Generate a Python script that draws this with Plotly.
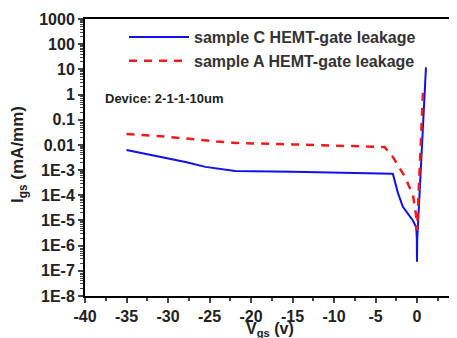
import plotly.graph_objects as go

# Sample C (blue, solid)
c_v = [-35, -31.5, -27.9, -25.5, -21.9, -15, -10, -5, -3, -2.9, -2.3, -1.7, -1.2, -0.5, -0.1, -0.02, 0.0, 0.02, 1.08]
c_i = [0.0063, 0.0037, 0.0021, 0.00134, 0.00093, 0.00085, 0.0008, 0.00078, 0.00072, 0.0007,
       1.25e-4, 3.5e-5, 2e-5, 1e-5, 5.5e-6, 2e-6, 2.3e-7, 1.5e-6, 12]

# Sample A (red, dashed)
a_v = [-35, -30, -25, -21.9, -15, -10, -5.3, -3.9, -2.9, -1.45, -0.48, -0.1, 0.0, 0.75]
a_i = [0.027, 0.021, 0.0145, 0.012, 0.0105, 0.0095, 0.0083, 0.0082, 0.0033, 5.4e-4, 1e-4, 1.5e-5, 4e-6, 2]

y_tickvals = [1000, 100, 10, 1, 0.1, 0.01, 1e-3, 1e-4, 1e-5, 1e-6, 1e-7, 1e-8]
y_ticktext = ["1000", "100", "10", "1", "0.1", "0.01", "1E-3", "1E-4", "1E-5", "1E-6", "1E-7", "1E-8"]
x_tickvals = [-40, -35, -30, -25, -20, -15, -10, -5, 0, 5]
x_ticktext = ["-40", "-35", "-30", "-25", "-20", "-15", "-10", "-5", "0", "5"]

FONT = "Liberation Sans, Arial, sans-serif"
OFF = 8  # default page body margin
# target page-pixel geometry of the plot area
L, T, BOT, RIGHT = 85, 19, 296, 457
W, H = 457 - OFF, 338 - OFF
PW = RIGHT - L
PH = BOT - T

fig = go.Figure()
fig.add_trace(go.Scatter(x=c_v, y=c_i, mode="lines", name="sample C HEMT-gate leakage",
                         line=dict(color="#1010ee", width=2)))
fig.add_trace(go.Scatter(x=a_v, y=a_i, mode="lines", name="sample A HEMT-gate leakage",
                         line=dict(color="#ee1c1c", width=2.5, dash="8px,7px")))

def px(xp):
    return (xp - L) / PW

def py(yp):
    return 1 - (yp - T) / PH

fig.add_annotation(x=px(103), y=py(98), xref="paper", yref="paper",
                   text="Device: 2-1-1-10um", showarrow=False, xanchor="left", yanchor="middle",
                   font=dict(family=FONT, size=13, color="#222", weight="bold"))

fig.add_annotation(x=px(270), y=py(329), xref="paper", yref="paper",
                   text="V<sub>gs</sub> (v)", showarrow=False, xanchor="center", yanchor="middle",
                   font=dict(family=FONT, size=16, color="#222", weight="bold"))
fig.add_annotation(x=px(19), y=py(155), xref="paper", yref="paper",
                   text="I<sub>gs</sub> (mA/mm)", showarrow=False, xanchor="center", yanchor="middle",
                   textangle=-90, font=dict(family=FONT, size=17, color="#222", weight="bold"))

fig.update_layout(
    width=W, height=H, autosize=False,
    margin=dict(l=L - OFF, r=0, t=T - OFF, b=(338 - BOT)),
    paper_bgcolor="white", plot_bgcolor="white",
    font=dict(family=FONT, color="#222"),
    showlegend=True,
    legend=dict(x=px(124), y=py(20), xanchor="left", yanchor="top",
                bgcolor="rgba(0,0,0,0)", font=dict(family=FONT, size=16, color="#333", weight="bold"),
                itemwidth=60, tracegroupgap=0),
    xaxis=dict(range=[-40, 4.82], tickvals=x_tickvals, ticktext=x_ticktext,
               ticks="outside", ticklen=5, tickwidth=2, automargin=False,
               showline=True, linewidth=2, linecolor="black", mirror=True, showgrid=False, zeroline=False,
               tickfont=dict(family=FONT, size=16, color="#222", weight="bold"),
               minor=dict(ticks="outside", ticklen=3, tickwidth=1.5, dtick=2.5, showgrid=False)),
    yaxis=dict(type="log", range=[-8, 3], tickvals=y_tickvals, ticktext=y_ticktext,
               ticks="outside", ticklen=5, tickwidth=2, automargin=False,
               showline=True, linewidth=2, linecolor="black", mirror=False, showgrid=False, zeroline=False,
               tickfont=dict(family=FONT, size=16, color="#222", weight="bold"),
               minor=dict(ticks="outside", ticklen=3, tickwidth=1, dtick="D1", showgrid=False)),
)

fig.write_html("out.html")
